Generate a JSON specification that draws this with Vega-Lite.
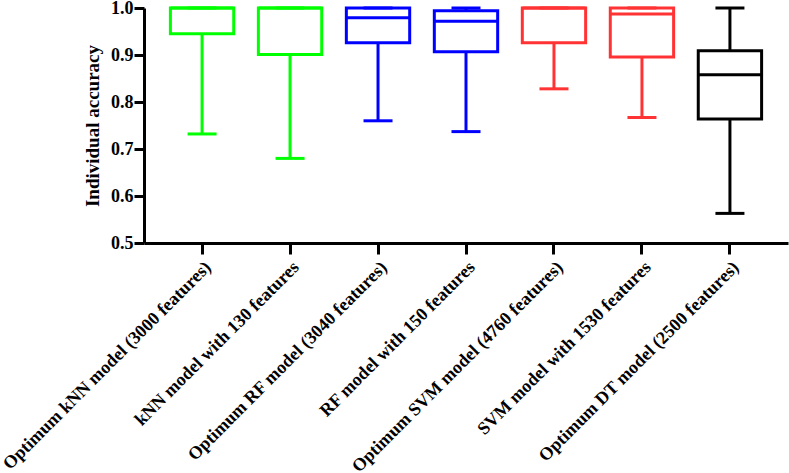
{
  "$schema": "https://vega.github.io/schema/vega-lite/v6.json",
  "width": 644,
  "height": 235,
  "autosize": {"type": "none"},
  "padding": {"left": 144, "top": 8, "right": 1, "bottom": 230},
  "background": "white",
  "config": {
    "view": {"stroke": null},
    "font": "Liberation Serif"
  },
  "data": {
    "values": [
      {"model": "Optimum kNN model (3000 features)", "family": "kNN", "lower": 0.732, "q1": 0.945, "median": 1.0, "q3": 1.0, "upper": 1.0},
      {"model": "kNN model with 130 features", "family": "kNN", "lower": 0.680, "q1": 0.901, "median": 1.0, "q3": 1.0, "upper": 1.0},
      {"model": "Optimum RF model (3040 features)", "family": "RF", "lower": 0.760, "q1": 0.926, "median": 0.979, "q3": 1.0, "upper": 1.0},
      {"model": "RF model with 150 features", "family": "RF", "lower": 0.737, "q1": 0.907, "median": 0.972, "q3": 0.994, "upper": 1.0},
      {"model": "Optimum SVM model (4760 features)", "family": "SVM", "lower": 0.828, "q1": 0.926, "median": 1.0, "q3": 1.0, "upper": 1.0},
      {"model": "SVM model with 1530 features", "family": "SVM", "lower": 0.767, "q1": 0.896, "median": 0.987, "q3": 1.0, "upper": 1.0},
      {"model": "Optimum DT model (2500 features)", "family": "DT", "lower": 0.563, "q1": 0.764, "median": 0.858, "q3": 0.909, "upper": 1.0}
    ]
  },
  "encoding": {
    "x": {
      "field": "model",
      "type": "nominal",
      "sort": null,
      "scale": {"type": "band", "paddingInner": 0, "paddingOuter": 0.16},
      "axis": {
        "title": null,
        "labelAngle": -45,
        "labelFont": "Liberation Serif",
        "labelFontWeight": "bold",
        "labelFontSize": 18,
        "labelColor": "black",
        "labelPadding": 4,
        "labelLimit": 400,
        "tickSize": 11,
        "tickWidth": 3,
        "tickColor": "black",
        "domainWidth": 3,
        "domainColor": "black"
      }
    },
    "color": {
      "field": "family",
      "type": "nominal",
      "scale": {"domain": ["kNN", "RF", "SVM", "DT"], "range": ["#00ff00", "#0000ff", "#ff3333", "#000000"]},
      "legend": null
    }
  },
  "layer": [
    {
      "mark": {"type": "rule", "strokeWidth": 3},
      "encoding": {
        "y": {
          "field": "lower",
          "type": "quantitative",
          "scale": {"domain": [0.5, 1.0], "nice": false, "zero": false},
          "axis": {
            "title": "Individual accuracy",
            "titleFont": "Liberation Serif",
            "titleFontWeight": "bold",
            "titleFontSize": 19,
            "titleColor": "black",
            "titlePadding": 8,
            "values": [0.5, 0.6, 0.7, 0.8, 0.9, 1.0],
            "format": ".1f",
            "grid": false,
            "labelFont": "Liberation Serif",
            "labelFontWeight": "bold",
            "labelFontSize": 18,
            "labelColor": "black",
            "labelPadding": 1,
            "tickSize": 10,
            "tickWidth": 3,
            "tickColor": "black",
            "domainWidth": 3,
            "domainColor": "black"
          }
        },
        "y2": {"field": "upper"}
      }
    },
    {
      "mark": {"type": "bar", "fill": "white", "strokeWidth": 3, "width": {"band": 0.72}},
      "encoding": {
        "y": {"field": "q1", "type": "quantitative"},
        "y2": {"field": "q3"},
        "stroke": {"field": "family", "type": "nominal", "scale": {"domain": ["kNN", "RF", "SVM", "DT"], "range": ["#00ff00", "#0000ff", "#ff3333", "#000000"]}, "legend": null},
        "color": {"value": "white"}
      }
    },
    {
      "mark": {"type": "tick", "size": 63, "thickness": 3, "opacity": 1},
      "encoding": {"y": {"field": "median", "type": "quantitative"}}
    },
    {
      "mark": {"type": "tick", "size": 29, "thickness": 3, "opacity": 1},
      "encoding": {"y": {"field": "lower", "type": "quantitative"}}
    },
    {
      "mark": {"type": "tick", "size": 29, "thickness": 3, "opacity": 1},
      "encoding": {"y": {"field": "upper", "type": "quantitative"}}
    }
  ]
}
